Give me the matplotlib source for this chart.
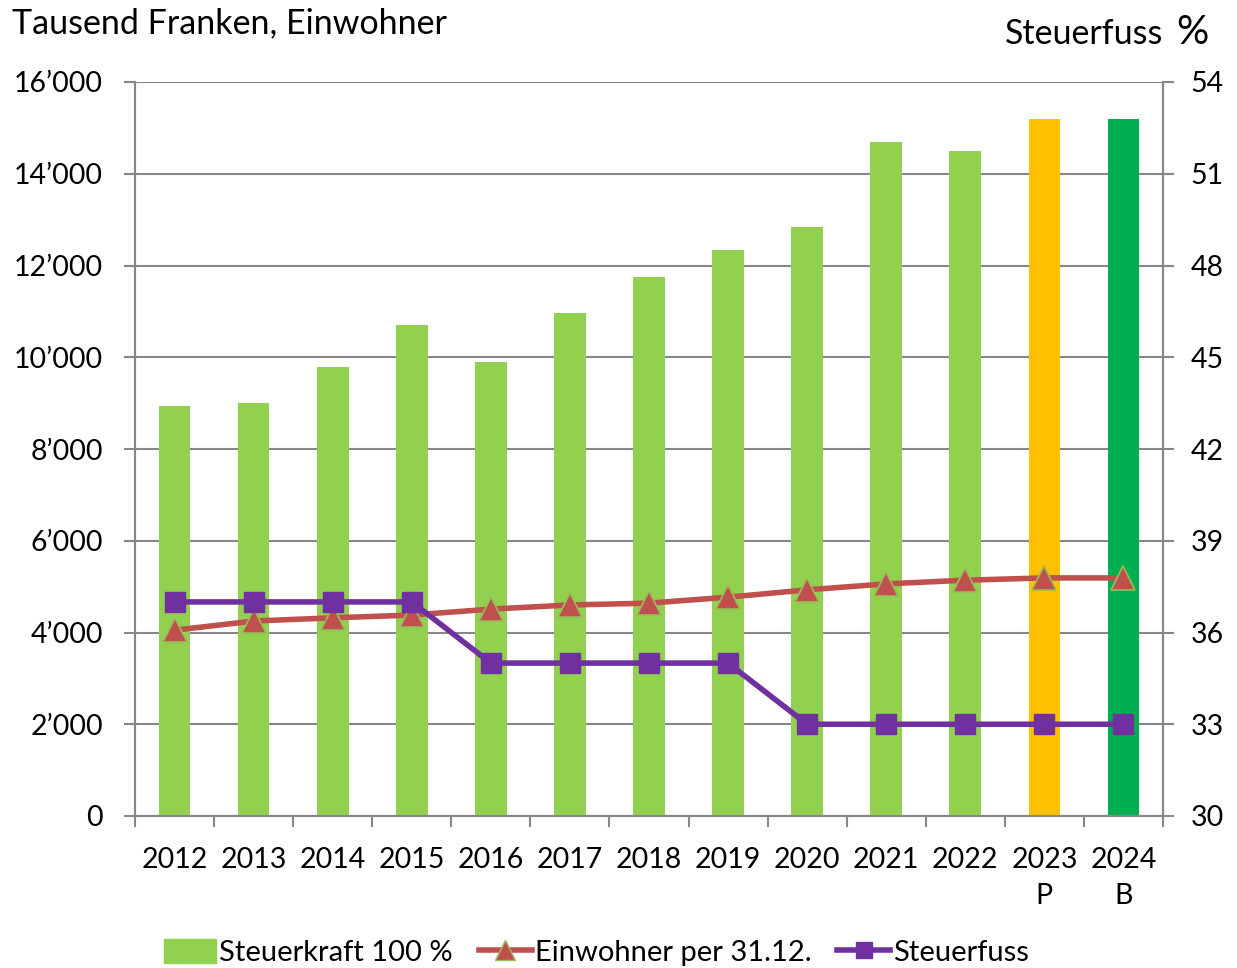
import matplotlib.pyplot as plt
import numpy as np
from matplotlib.lines import Line2D
from matplotlib.patches import Patch
from matplotlib.ticker import FuncFormatter, MultipleLocator

plt.rcParams['font.family'] = ['Lato', 'DejaVu Sans']

years = ['2012', '2013', '2014', '2015', '2016', '2017', '2018',
         '2019', '2020', '2021', '2022', '2023\nP', '2024\nB']
steuerkraft = [8940, 9000, 9790, 10700, 9900, 10960, 11750,
               12340, 12840, 14690, 14500, 15190, 15190]
einwohner = [4050, 4250, 4320, 4380, 4510, 4600, 4640,
             4770, 4930, 5060, 5140, 5190, 5190]
steuerfuss = [37, 37, 37, 37, 35, 35, 35, 35, 33, 33, 33, 33, 33]

bar_colors = ['#92D050'] * 11 + ['#FFC000', '#00B050']
grid_col = '#878787'
fs = 20.5

x = np.arange(len(years))

fig = plt.figure(figsize=(12.37, 9.68), dpi=100)
ax = fig.add_axes([135 / 1237, 1 - 816 / 968, (1163 - 135) / 1237, (816 - 82) / 968])
ax2 = ax.twinx()

ax.bar(x, steuerkraft, width=0.4, color=bar_colors, zorder=2)
ax.plot(x, einwohner, color='#C0504D', lw=4, marker='^', ms=17,
        markerfacecolor='#C0504D', markeredgecolor='#9BBB59', mew=1.2, zorder=3)
ax2.plot(x, steuerfuss, color='#7030A0', lw=4, marker='s', ms=15,
         markerfacecolor='#7030A0', markeredgecolor='#7030A0', zorder=3)

ax.set_xlim(-0.5, len(years) - 0.5)
ax.set_ylim(0, 16000)
ax2.set_ylim(30, 54)
ax.yaxis.set_major_locator(MultipleLocator(2000))
ax2.yaxis.set_major_locator(MultipleLocator(3))
ax.yaxis.set_major_formatter(FuncFormatter(
    lambda v, p: f"{int(v):,}".replace(',', '\u2019')))

ax.grid(axis='y', color=grid_col, lw=1.5, zorder=0)
ax.set_axisbelow(True)

ax.set_xticks(x)
ax.set_xticklabels(years, fontsize=fs, linespacing=1.5, va='top')
ax.set_xticks(np.arange(-0.5, len(years)), minor=True)
ax.tick_params(axis='x', which='major', length=0, pad=22)
ax.tick_params(axis='x', which='minor', length=8, width=1.5, color=grid_col)
ax.tick_params(axis='y', length=8, width=1.5, color=grid_col, pad=15, labelsize=fs)
ax2.tick_params(axis='y', length=8, width=1.5, color=grid_col, pad=12, labelsize=fs)

for a in (ax, ax2):
    a.spines['top'].set_visible(False)
    for s in ('left', 'right', 'bottom'):
        a.spines[s].set_color(grid_col)
        a.spines[s].set_linewidth(1.5)

fig.text(12 / 1237, 1 - 23 / 968, 'Tausend Franken, Einwohner', fontsize=24.5,
         ha='left', va='center')
fig.text(1163 / 1237, 1 - 34 / 968, 'Steuerfuss', fontsize=24.5,
         ha='right', va='center')
fig.text(1208 / 1237, 1 - 32 / 968, '%', fontsize=29, ha='right', va='center')

handles = [
    Patch(color='#92D050'),
    Line2D([], [], color='#C0504D', lw=4, marker='^', ms=14,
           markerfacecolor='#C0504D', markeredgecolor='#9BBB59'),
    Line2D([], [], color='#7030A0', lw=4, marker='s', ms=12),
]
labels = ['Steuerkraft 100 %', 'Einwohner per 31.12.', 'Steuerfuss']
fig.legend(handles, labels, loc='center', bbox_to_anchor=(0.482, 0.016),
           ncol=3, frameon=False, fontsize=21, handlelength=1.8,
           handletextpad=0.1, columnspacing=0.9, handleheight=0.9)

fig.savefig('out.png', dpi=100)
